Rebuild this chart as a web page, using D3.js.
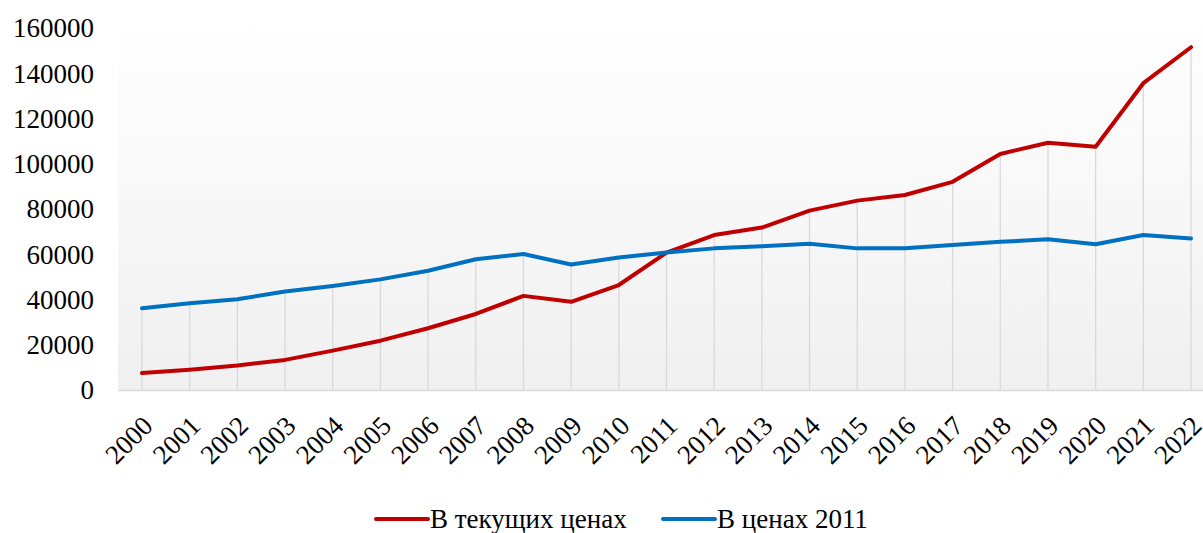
<!DOCTYPE html>
<html>
<head>
<meta charset="utf-8">
<script src="https://cdn.jsdelivr.net/npm/d3@7"></script>
</head>
<body style="margin:0">
<svg id="chart" width="1203" height="533"></svg>
<script>
// Data
var years = ["2000","2001","2002","2003","2004","2005","2006","2007","2008","2009","2010",
  "2011","2012","2013","2014","2015","2016","2017","2018","2019","2020","2021","2022"];
var currentPrices = [7500, 9000, 10800, 13300, 17400, 21800, 27300, 33600, 41600, 39000, 46400,
  60700, 68500, 71800, 79300, 83700, 86200, 92000, 104300, 109300, 107500, 135600, 151500];
var prices2011 = [36100, 38300, 40100, 43500, 46000, 48900, 52700, 57800, 60100, 55500, 58600,
  60800, 62600, 63500, 64600, 62600, 62600, 64100, 65500, 66600, 64400, 68500, 67000];
var yTicks = [0, 20000, 40000, 60000, 80000, 100000, 120000, 140000, 160000];
var seriesNames = ["В текущих ценах", "В ценах 2011"];
var colors = ["#c00000", "#0070c0"];

var svg = d3.select("#chart"),
  plotLeft = 118, plotRight = 1203,
  plotTop = 28, plotBottom = 390;

var x = d3.scalePoint().domain(years).range([142, 1191]);
var y = d3.scaleLinear().domain([0, 160000]).range([plotBottom, plotTop]);

// background gradient
var grad = svg.append("defs").append("linearGradient")
  .attr("id", "bg").attr("x1", 0).attr("y1", 0).attr("x2", 0).attr("y2", 1);
grad.append("stop").attr("offset", "0%").attr("stop-color", "#ffffff");
grad.append("stop").attr("offset", "100%").attr("stop-color", "#f0f0f0");

svg.append("rect")
  .attr("x", plotLeft).attr("y", plotTop - 10)
  .attr("width", plotRight - plotLeft).attr("height", plotBottom - plotTop + 10)
  .attr("fill", "url(#bg)");

// drop lines
svg.append("g").selectAll("line")
  .data(years)
  .join("line")
  .attr("x1", d => x(d)).attr("x2", d => x(d))
  .attr("y1", (d, i) => y(Math.max(currentPrices[i], prices2011[i])))
  .attr("y2", plotBottom)
  .attr("stroke", "#d9d9d9").attr("stroke-width", 1.3);

// x axis line
svg.append("line")
  .attr("x1", plotLeft).attr("x2", plotRight)
  .attr("y1", plotBottom + 0.5).attr("y2", plotBottom + 0.5)
  .attr("stroke", "#d9d9d9").attr("stroke-width", 1.5);

// y axis labels
svg.append("g").selectAll("text")
  .data(yTicks)
  .join("text")
  .attr("x", 94).attr("y", d => y(d))
  .attr("dy", "0.35em")
  .attr("text-anchor", "end")
  .style("font-family", "'Liberation Serif'")
  .style("font-size", "27px")
  .text(d => d);

// x axis labels, rotated
svg.append("g").selectAll("text")
  .data(years)
  .join("text")
  .attr("transform", d => "translate(" + (x(d) - 1) + "," + 414 + ") rotate(-45)")
  .attr("text-anchor", "end")
  .attr("dy", "0.7em")
  .style("font-family", "'Liberation Serif'")
  .style("font-size", "27px")
  .text(d => d);

// lines
var line = d3.line()
  .x((d, i) => x(years[i]))
  .y(d => y(d));

[currentPrices, prices2011].forEach(function (s, k) {
  svg.append("path")
    .datum(s)
    .attr("fill", "none")
    .attr("stroke", colors[k])
    .attr("stroke-width", 4)
    .attr("stroke-linejoin", "round")
    .attr("stroke-linecap", "round")
    .attr("d", line);
});

// legend
var legendX = [376, 663];
seriesNames.forEach(function (name, k) {
  var g = svg.append("g").attr("transform", "translate(" + legendX[k] + ",519)");
  g.append("line")
    .attr("x1", 0).attr("x2", 52)
    .attr("stroke", colors[k]).attr("stroke-width", 4)
    .attr("stroke-linecap", "round");
  g.append("text")
    .attr("x", 54).attr("dy", "0.35em")
    .style("font-family", "'Liberation Serif'")
    .style("font-size", "27px")
    .text(name);
});
</script>
</body>
</html>
